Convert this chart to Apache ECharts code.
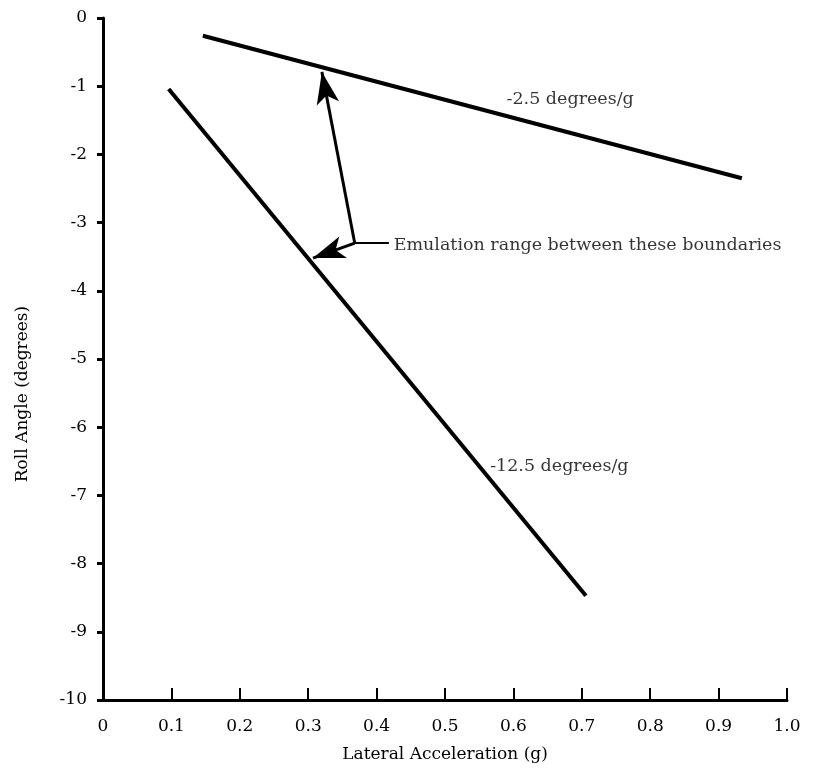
<!DOCTYPE html>
<html>
<head>
<meta charset="utf-8">
<script src="https://cdn.jsdelivr.net/npm/echarts@6/dist/echarts.min.js"></script>
<style>
  html, body { margin: 0; padding: 0; background: #fff; }
  #chart { width: 813px; height: 769px; }
</style>
</head>
<body>
<div id="chart"></div>
<script>
// boundary lines: [lateral accel g, roll angle deg]
const upperLine = [[0.146, -0.26], [0.934, -2.35]];   // -2.5 deg/g
const lowerLine = [[0.096, -1.04], [0.706, -8.47]];   // -12.5 deg/g

// annotation arrows
const arrowCorner = [0.368, -3.30];
const arrowTipUpper = [0.320, -0.79];
const arrowTipLower = [0.307, -3.52];
const leaderEnd = [0.418, -3.30];

// text labels: [x, y, text]
const annotations = [
    [0.590, -1.20, '-2.5 degrees/g'],
    [0.566, -6.57, '-12.5 degrees/g'],
    [0.425, -3.33, 'Emulation range between these boundaries']
];

const xTicks = [0, 0.1, 0.2, 0.3, 0.4, 0.5, 0.6, 0.7, 0.8, 0.9, 1.0];
const xTickLabels = ['0', '0.1', '0.2', '0.3', '0.4', '0.5', '0.6', '0.7', '0.8', '0.9', '1.0'];

const FONT = 'DejaVu Serif';

const chart = echarts.init(document.getElementById('chart'), null, { renderer: 'canvas' });

const option = {
    animation: false,
    backgroundColor: '#fff',
    grid: { left: 103, right: 26, top: 18, bottom: 69 },
    xAxis: {
        type: 'value',
        min: 0, max: 1, interval: 0.1,
        name: 'Lateral Acceleration (g)',
        nameLocation: 'middle',
        nameGap: 46,
        nameTextStyle: { fontFamily: FONT, fontSize: 17, color: '#000' },
        axisLine: { onZero: false, lineStyle: { color: '#000', width: 3 } },
        axisTick: { inside: true, length: 12, lineStyle: { color: '#000', width: 2 } },
        splitLine: { show: false },
        axisLabel: {
            margin: 18,
            fontFamily: FONT, fontSize: 17, color: '#000',
            formatter: v => {
                const i = xTicks.findIndex(t => Math.abs(t - v) < 1e-6);
                return i >= 0 ? xTickLabels[i] : '';
            }
        }
    },
    yAxis: {
        type: 'value',
        min: -10, max: 0, interval: 1,
        name: 'Roll Angle (degrees)',
        nameLocation: 'middle',
        nameGap: 72,
        nameRotate: 90,
        nameTextStyle: { fontFamily: FONT, fontSize: 17, color: '#000', padding: [0, 70, 0, 0] },
        axisLine: { onZero: false, lineStyle: { color: '#000', width: 3 } },
        axisTick: { inside: false, length: 6, lineStyle: { color: '#000', width: 3 } },
        splitLine: { show: false },
        axisLabel: { margin: 16, fontFamily: FONT, fontSize: 17, color: '#000' }
    },
    series: [
        {
            type: 'line',
            data: upperLine,
            symbol: 'none',
            lineStyle: { color: '#000', width: 4 }
        },
        {
            type: 'line',
            data: lowerLine,
            symbol: 'none',
            lineStyle: { color: '#000', width: 4 }
        },
        {
            // arrows and leader line
            type: 'line',
            data: [],
            markLine: {
                silent: true,
                symbol: ['none', 'arrow'],
                symbolSize: [17, 32],
                label: { show: false },
                lineStyle: { color: '#000', width: 3, type: 'solid' },
                data: [
                    [{ coord: arrowCorner }, { coord: arrowTipUpper }],
                    [{ coord: arrowCorner }, { coord: arrowTipLower }],
                    [{ coord: arrowCorner, symbol: 'none' }, { coord: leaderEnd, symbol: 'none', lineStyle: { width: 2 } }]
                ]
            }
        },
        {
            type: 'scatter',
            symbolSize: 0,
            silent: true,
            data: annotations.map(a => ({ value: [a[0], a[1]], name: a[2] })),
            label: {
                show: true,
                position: 'right',
                distance: 0,
                formatter: p => p.name,
                fontFamily: FONT, fontSize: 17.5, color: '#000'
            }
        }
    ]
};

chart.setOption(option);
</script>
</body>
</html>
